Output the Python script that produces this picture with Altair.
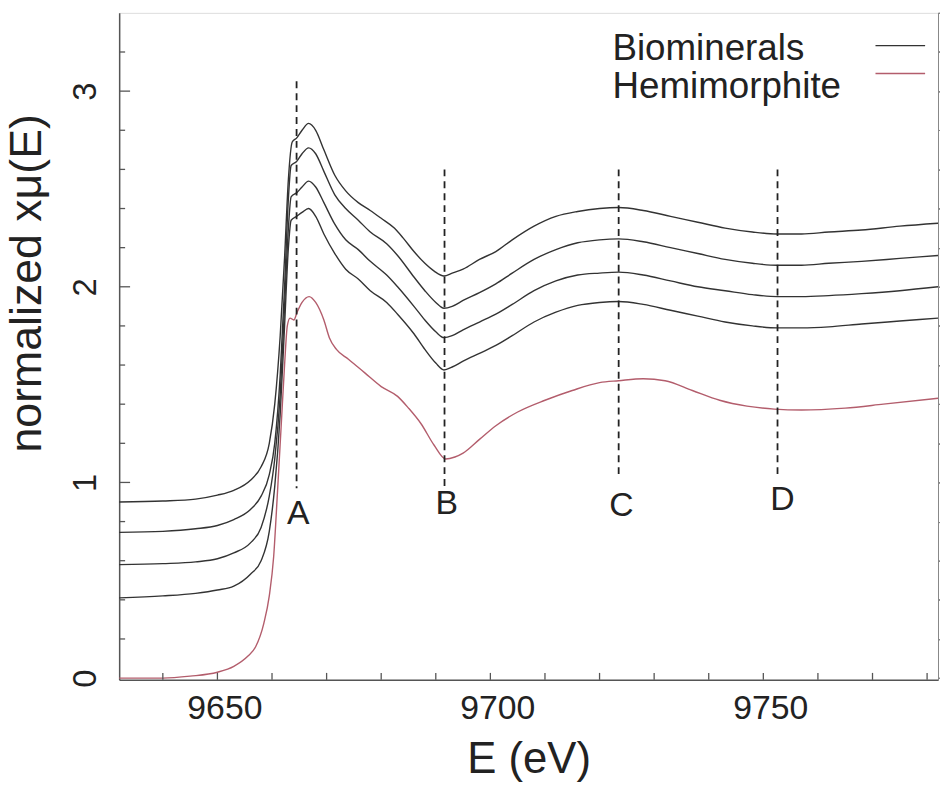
import altair as alt
import pandas as pd

# ---- data ----
energy_b1 = [9632, 9640, 9646, 9650, 9653, 9656, 9658, 9659.5, 9660.5, 9661.5, 9662.3, 9663, 9663.7, 9664.5, 9665.5, 9666.7, 9668, 9669.5, 9671.5, 9673.5, 9675.8, 9678, 9680, 9682.4, 9684, 9686, 9688, 9689.7, 9691.5, 9693, 9695, 9698, 9701, 9704, 9708, 9712, 9716, 9720, 9723.5, 9728, 9733, 9738, 9743, 9748, 9752.5, 9757, 9762, 9768, 9775, 9782]
mu_b1 = [0.90, 0.905, 0.915, 0.935, 0.96, 1.01, 1.08, 1.20, 1.40, 1.75, 2.15, 2.55, 2.74, 2.76, 2.80, 2.835, 2.80, 2.70, 2.57, 2.49, 2.43, 2.39, 2.35, 2.30, 2.25, 2.18, 2.12, 2.08, 2.055, 2.07, 2.09, 2.14, 2.18, 2.24, 2.31, 2.36, 2.385, 2.40, 2.405, 2.39, 2.36, 2.33, 2.30, 2.28, 2.27, 2.27, 2.28, 2.29, 2.31, 2.325]

energy_b2 = [9632, 9640, 9646, 9650, 9653, 9656, 9658, 9659.5, 9660.5, 9661.5, 9662.3, 9663, 9663.5, 9664.5, 9665.5, 9666.7, 9668, 9669.5, 9671.5, 9673.5, 9675.8, 9678, 9681, 9683, 9686, 9688, 9690, 9691.5, 9693, 9695, 9698, 9701, 9704, 9708, 9712, 9716, 9720, 9723.5, 9728, 9733, 9738, 9743, 9748, 9752.5, 9757, 9762, 9768, 9775, 9782]
mu_b2 = [0.745, 0.75, 0.763, 0.78, 0.81, 0.86, 0.93, 1.04, 1.20, 1.55, 2.00, 2.45, 2.62, 2.64, 2.68, 2.71, 2.68, 2.59, 2.47, 2.40, 2.34, 2.28, 2.22, 2.16, 2.05, 1.98, 1.92, 1.89, 1.90, 1.93, 1.97, 2.015, 2.07, 2.14, 2.19, 2.225, 2.24, 2.245, 2.23, 2.20, 2.17, 2.14, 2.12, 2.11, 2.11, 2.12, 2.13, 2.145, 2.16]

energy_b3 = [9632, 9640, 9646, 9650, 9653, 9656, 9658, 9659.5, 9660.5, 9661.5, 9662.3, 9663, 9663.5, 9664.5, 9665.5, 9666.7, 9668, 9669.5, 9671.5, 9673.5, 9675.8, 9678, 9681, 9683, 9686, 9688, 9690, 9691.5, 9693, 9695, 9698, 9701, 9704, 9708, 9712, 9716, 9720, 9723.5, 9728, 9733, 9738, 9743, 9748, 9752.5, 9757, 9762, 9768, 9775, 9782]
mu_b3 = [0.58, 0.585, 0.594, 0.61, 0.64, 0.69, 0.77, 0.93, 1.12, 1.45, 1.90, 2.30, 2.46, 2.48, 2.51, 2.54, 2.51, 2.43, 2.32, 2.24, 2.19, 2.13, 2.06, 2.00, 1.90, 1.83, 1.77, 1.74, 1.75, 1.78, 1.82, 1.86, 1.91, 1.98, 2.03, 2.06, 2.07, 2.075, 2.06, 2.03, 2.00, 1.98, 1.96, 1.95, 1.95, 1.955, 1.965, 1.98, 2.00]

energy_b4 = [9632, 9640, 9646, 9650, 9653, 9656, 9658, 9659.5, 9660.5, 9661.5, 9662.3, 9663, 9663.5, 9664.5, 9665.5, 9666.7, 9668, 9669.5, 9671.5, 9673.5, 9675.8, 9678, 9681, 9683, 9686, 9688, 9690, 9691.5, 9693, 9695, 9698, 9701, 9704, 9708, 9712, 9716, 9720, 9723.5, 9728, 9733, 9738, 9743, 9748, 9752.5, 9757, 9762, 9768, 9775, 9782]
mu_b4 = [0.41, 0.42, 0.433, 0.45, 0.47, 0.53, 0.60, 0.75, 0.98, 1.35, 1.80, 2.20, 2.34, 2.36, 2.38, 2.40, 2.36, 2.27, 2.17, 2.09, 2.04, 1.98, 1.92, 1.86, 1.76, 1.68, 1.61, 1.575, 1.59, 1.62, 1.66, 1.70, 1.75, 1.82, 1.87, 1.905, 1.92, 1.925, 1.91, 1.88, 1.85, 1.82, 1.80, 1.79, 1.79, 1.795, 1.81, 1.825, 1.84]

energy_hemi = [9632, 9640, 9645, 9650, 9653, 9655.5, 9657, 9658.5, 9659.5, 9660.3, 9661, 9661.7, 9662.3, 9662.8, 9663.3, 9664, 9664.6, 9665.5, 9666.8, 9668, 9669.5, 9670.5, 9671.8, 9674, 9677, 9680, 9683, 9685, 9687.3, 9689.7, 9691.8, 9693.5, 9695, 9698, 9701, 9705, 9710, 9715, 9720, 9723.5, 9728, 9732, 9737, 9742, 9747, 9752, 9757, 9765, 9772, 9782]
mu_hemi = [0.0, 0.0, 0.01, 0.03, 0.06, 0.11, 0.16, 0.28, 0.42, 0.62, 0.95, 1.30, 1.60, 1.80, 1.84, 1.83, 1.87, 1.92, 1.95, 1.92, 1.83, 1.74, 1.68, 1.63, 1.56, 1.49, 1.44, 1.38, 1.30, 1.19, 1.12, 1.13, 1.15, 1.22, 1.29, 1.36, 1.42, 1.47, 1.51, 1.52, 1.53, 1.52, 1.47, 1.42, 1.39, 1.375, 1.37, 1.38, 1.40, 1.43]

marker_labels = ["A", "B", "C", "D"]
marker_energy = [9664.5, 9691.6, 9723.5, 9752.6]
marker_top = [3.05, 2.60, 2.60, 2.60]
marker_bottom = [0.97, 0.97, 1.04, 1.04]
marker_text_energy = [9664.8, 9692.0, 9724.0, 9753.5]
marker_text_y = [0.84, 0.89, 0.88, 0.91]

x_minor_ticks = [9640, 9650, 9660, 9670, 9680, 9690, 9700, 9710, 9720, 9730, 9740, 9750, 9760, 9770, 9780]
y_minor_ticks = [0.2, 0.4, 0.6, 0.8, 1.2, 1.4, 1.6, 1.8, 2.2, 2.4, 2.6, 2.8, 3.2]
y_major_ticks = [1, 2, 3]

legend_names = ["Biominerals", "Hemimorphite"]

# ---- build table ----
rows = []
for name, es, ms in [("b1", energy_b1, mu_b1), ("b2", energy_b2, mu_b2),
                     ("b3", energy_b3, mu_b3), ("b4", energy_b4, mu_b4),
                     ("hemi", energy_hemi, mu_hemi)]:
    for e, m in zip(es, ms):
        rows.append({"E": e, "mu": m, "series": name})
df = pd.DataFrame(rows)

BLACK = "#333333"
RED = "#b35d6c"
FONT = "Liberation Sans"
W, H = 825, 672
xs = alt.Scale(domain=[9632, 9782], nice=False, zero=False)
ys = alt.Scale(domain=[-0.009, 3.4], nice=False, zero=False)

x_axis = alt.Axis(values=[9650, 9700, 9750], format="d", ticks=False, grid=False,
                  labelFontSize=34, labelFont=FONT, labelColor="#222",
                  labelPadding=12, labelOffset=7, domainColor="#555", domainWidth=1.5,
                  title="E (eV)", titleFontSize=44, titleFont=FONT,
                  titleFontWeight="normal", titleColor="#222",
                  titleY=93, titleBaseline="alphabetic")
y_axis = alt.Axis(values=[0, 1, 2, 3], format="d", ticks=False, grid=False,
                  labelFontSize=33, labelFont=FONT, labelColor="#222",
                  labelAngle=270, labelAlign="center", labelBaseline="bottom",
                  labelPadding=17, domainColor="#555", domainWidth=1.5,
                  title="normalized xμ(E)", titleFontSize=45, titleFont=FONT,
                  titleFontWeight="normal", titleColor="#222",
                  titleX=-93, titleY=272, titleAlign="center", titleBaseline="middle")

lines = alt.Chart(df).mark_line(interpolate="monotone", strokeWidth=1.4).encode(
    x=alt.X("E:Q", scale=xs, axis=x_axis),
    y=alt.Y("mu:Q", scale=ys, axis=y_axis),
    color=alt.Color("series:N", legend=None,
                    scale=alt.Scale(domain=["b1", "b2", "b3", "b4", "hemi"],
                                    range=[BLACK, BLACK, BLACK, BLACK, RED])),
    detail="series:N",
)

mk = pd.DataFrame({"label": marker_labels, "E": marker_energy, "top": marker_top,
                   "bottom": marker_bottom, "tx": marker_text_energy, "ty": marker_text_y})
markers = alt.Chart(mk).mark_rule(strokeDash=[7, 5], strokeWidth=1.8, color="#222").encode(
    x=alt.X("E:Q", scale=xs), y=alt.Y("top:Q", scale=ys), y2="bottom:Q")
marker_text = alt.Chart(mk).mark_text(fontSize=34, font=FONT, color="#222",
                                      baseline="middle", align="center").encode(
    x=alt.X("tx:Q", scale=xs), y=alt.Y("ty:Q", scale=ys), text="label:N")

xt = pd.DataFrame({"E": x_minor_ticks})
x_ticks = alt.Chart(xt).mark_rule(color="#555", strokeWidth=1.3).encode(
    x=alt.X("E:Q", scale=xs), y=alt.value(H), y2=alt.value(H - 7))

ytm = pd.DataFrame({"v": y_minor_ticks})
y_ticks_minor = alt.Chart(ytm).mark_rule(color="#555", strokeWidth=1.3).encode(
    y=alt.Y("v:Q", scale=ys), x=alt.value(0), x2=alt.value(6))
ytM = pd.DataFrame({"v": y_major_ticks})
y_ticks_major = alt.Chart(ytM).mark_rule(color="#555", strokeWidth=1.3).encode(
    y=alt.Y("v:Q", scale=ys), x=alt.value(0), x2=alt.value(11))

lg = pd.DataFrame({"name": legend_names, "row": [0, 1], "col": [BLACK, RED]})
legend_text = alt.Chart(lg).mark_text(fontSize=37, font=FONT, color="#222",
                                      align="left", baseline="alphabetic").encode(
    x=alt.value(497), y=alt.Y("row:Q", scale=alt.Scale(domain=[0, 1], range=[47, 86]), axis=None),
    text="name:N")
legend_lines = alt.Chart(lg).mark_rule(strokeWidth=1.5).encode(
    x=alt.value(762), x2=alt.value(812),
    y=alt.Y("row:Q", scale=alt.Scale(domain=[0, 1], range=[33, 61]), axis=None),
    color=alt.Color("col:N", scale=None))

chart = alt.layer(
    lines, markers, marker_text, x_ticks, y_ticks_minor, y_ticks_major, legend_text, legend_lines
).resolve_scale(y="independent").properties(
    width=W, height=H,
    autosize=alt.AutoSizeParams(type="none"),
    padding={"left": 112, "top": 2, "right": 2, "bottom": 100},
).configure_view(stroke="#555", strokeWidth=1.5).configure(background="white")

chart.save("out.html", embed_options={"renderer": "svg", "actions": False})
